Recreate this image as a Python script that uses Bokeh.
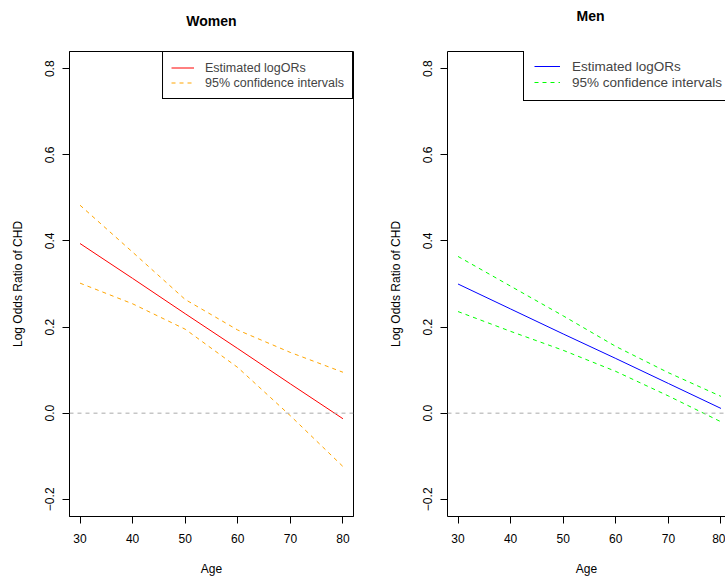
from bokeh.plotting import figure
from bokeh.layouts import row, column
from bokeh.models import Range1d, FixedTicker, Span, Legend, LegendItem, LinearAxis, Label
from bokeh.embed import file_html
from bokeh.resources import INLINE

# Estimated log odds ratios of CHD by age, with 95% confidence bounds
ages = [30, 40, 50, 60, 70, 80]
women_est = [0.394, 0.313, 0.231, 0.150, 0.068, -0.013]
women_upper = [0.483, 0.374, 0.264, 0.193, 0.141, 0.095]
women_lower = [0.302, 0.254, 0.195, 0.106, -0.006, -0.124]
men_est = [0.300, 0.242, 0.184, 0.127, 0.069, 0.011]
men_upper = [0.364, 0.295, 0.226, 0.155, 0.094, 0.039]
men_lower = [0.236, 0.190, 0.146, 0.097, 0.040, -0.020]

x_ticks = [30, 40, 50, 60, 70, 80]
y_ticks = [-0.2, 0.0, 0.2, 0.4, 0.6, 0.8]
y_tick_labels = ["\u22120.2", "0.0", "0.2", "0.4", "0.6", "0.8"]

FONT = "Liberation Sans"
HEAD_H = 30      # height of the strip holding the panel headings
PLOT_H = 551     # height of each plotting panel


def heading(text, width, x_center, y_center):
    """A bare strip whose frame is the whole canvas, measured in pixels."""
    h = figure(width=width, height=HEAD_H, x_range=Range1d(0, width),
               y_range=Range1d(HEAD_H, 0), x_axis_type=None, y_axis_type=None,
               output_backend="svg", toolbar_location=None,
               min_border=0, min_border_left=0, min_border_right=0,
               min_border_top=0, min_border_bottom=0,
               outline_line_color=None, background_fill_color="white",
               border_fill_color="white")
    h.xgrid.visible = False
    h.ygrid.visible = False
    h.add_layout(Label(x=x_center, y=y_center, text=text, text_align="center",
                       text_baseline="middle", text_font=FONT, text_font_size="14px",
                       text_font_style="bold", text_color="black"))
    return h


def style_axes(p):
    p.xaxis.ticker = FixedTicker(ticks=x_ticks)
    p.yaxis.ticker = FixedTicker(ticks=y_ticks)
    p.yaxis.major_label_overrides = dict(zip(y_ticks, y_tick_labels))
    p.yaxis.major_label_orientation = "vertical"
    p.xaxis.axis_label = "Age"
    p.yaxis.axis_label = "Log Odds Ratio of CHD"
    for ax in (p.xaxis[0], p.yaxis[0]):
        ax.major_tick_out = 7
        ax.major_tick_in = 0
        ax.minor_tick_out = 0
        ax.minor_tick_in = 0
        ax.axis_line_color = "black"
        ax.major_tick_line_color = "black"
        ax.major_label_text_font = FONT
        ax.major_label_text_font_size = "12px"
        ax.major_label_text_color = "black"
        ax.axis_label_text_font = FONT
        ax.axis_label_text_font_size = "12px"
        ax.axis_label_text_font_style = "normal"
        ax.axis_label_text_color = "black"
    p.xaxis.major_label_standoff = 10
    p.xaxis.axis_label_standoff = 16
    p.yaxis.major_label_standoff = 8
    p.yaxis.axis_label_standoff = 18
    p.xgrid.visible = False
    p.ygrid.visible = False


def make_panel(est, upper, lower, est_color, ci_color, width, x_end,
               border_right, legend_kw):
    p = figure(width=width, height=PLOT_H,
               x_range=Range1d(28, x_end), y_range=Range1d(-0.24, 0.84),
               output_backend="svg", toolbar_location=None,
               min_border_left=69, min_border_right=border_right,
               min_border_top=21, min_border_bottom=65,
               background_fill_color="white", border_fill_color="white")
    style_axes(p)

    p.add_layout(Span(location=0, dimension="width", line_color="#A9A9A9",
                      line_dash="4 4", line_width=1))

    r_est = p.line(ages, est, line_color=est_color, line_width=1)
    r_up = p.line(ages, upper, line_color=ci_color, line_width=1, line_dash="4 4")
    p.line(ages, lower, line_color=ci_color, line_width=1, line_dash="4 4")

    legend = Legend(items=[LegendItem(label="Estimated logORs", renderers=[r_est]),
                           LegendItem(label="95% confidence intervals", renderers=[r_up])],
                    margin=0, spacing=0,
                    border_line_color="black", border_line_width=1, border_line_alpha=1,
                    background_fill_color="white", background_fill_alpha=1,
                    label_text_font=FONT, **legend_kw)
    p.add_layout(legend)
    return p


women = make_panel(women_est, women_upper, women_lower, "#FF0000", "#FFA500",
                   width=378, x_end=82, border_right=25,
                   legend_kw=dict(location="top_right", padding=8, glyph_width=23,
                                  glyph_height=15, label_height=15, label_standoff=11,
                                  label_text_font_size="12.5px"))
women.outline_line_color = "black"
women.outline_line_alpha = 1

men = make_panel(men_est, men_upper, men_lower, "#0000FF", "#00FF00",
                 width=347, x_end=80.86, border_right=0,
                 legend_kw=dict(location=(76, 415), padding=10, glyph_width=26,
                                glyph_height=16, label_height=16, label_standoff=12,
                                label_text_font_size="13.5px"))
# the right edge of this panel runs off the page, so only three sides are boxed
men.outline_line_color = None
top_line = LinearAxis(ticker=FixedTicker(ticks=[]), major_tick_out=0, major_tick_in=0,
                      minor_tick_out=0, minor_tick_in=0, major_label_text_font_size="0px",
                      axis_line_color="black")
men.add_layout(top_line, "above")

women_head = heading("Women", 378, 211, 20)
men_head = heading("Men", 347, 212, 15)

layout = column(row(women_head, men_head), row(women, men))
open("out.html", "w").write(file_html(layout, INLINE))
